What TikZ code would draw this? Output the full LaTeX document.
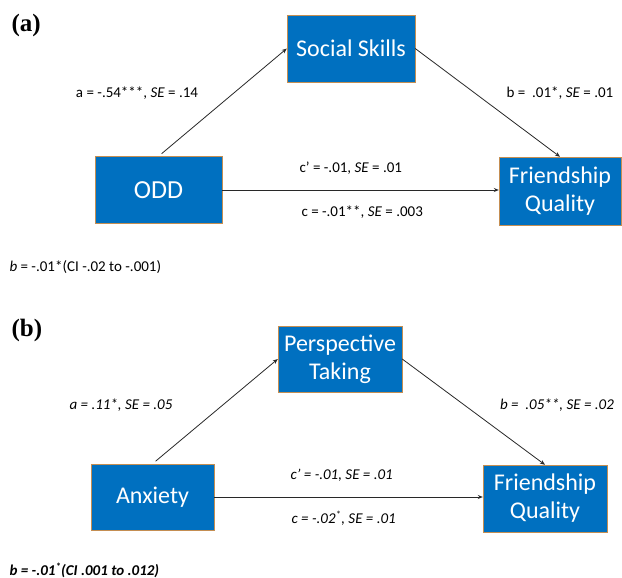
\documentclass[tikz,border=0pt]{standalone}
\usepackage{fontspec}
\setmainfont{Carlito}
\newfontfamily\panelfont{Liberation Serif}
\usetikzlibrary{arrows.meta}
\definecolor{boxblue}{RGB}{0,112,192}
\definecolor{boxedge}{RGB}{196,142,82}
\definecolor{linegray}{RGB}{40,40,40}
\begin{document}
\begin{tikzpicture} [x = 1pt, y = -1pt,
  var/.style = {draw = boxedge, fill = boxblue, text = white, align = center, inner sep = 0pt,
    font = \fontsize{24}{28}\selectfont},
  link/.style = {linegray, line width = 0.8pt, -{Stealth[length = 5pt, width = 4pt]}},
  est/.style = {font = \fontsize{15}{18}\selectfont},
  panel/.style = {anchor = west, font = \panelfont\bfseries\fontsize{25}{28}\selectfont}]
\useasboundingbox (0,0) rectangle (622,578);
% (a)
\node [panel] (pa) at (8,25) {(a)};
\node [var, minimum width = 128pt, minimum height = 67pt] (ss) at (351,48.5) {Social Skills};
\node [var, minimum width = 127pt, minimum height = 67pt, font = \fontsize{26}{28}\selectfont] (odd) at (158.5,190) {ODD};
\node [var, minimum width = 122pt, minimum height = 68pt] (fqa) at (560,191) {Friendship\\Quality};
\draw [link, shorten < = 4pt] (odd.north) -- (ss.west);
\draw [link] (ss.east) -- (fqa.north);
\draw [link] (odd.east) -- (odd.east -| fqa.west);
\node [est] (aa) at (137,93) {a = -.54***, \textit{SE} = .14};
\node [est] (ba) at (560,93) {b =\ \ .01*, \textit{SE} = .01};
\node [est, anchor = west] (cpa) at (296,168) {c’ = -.01, \textit{SE} = .01};
\node [est, anchor = west] (ca) at (298,212) {c = -.01**, \textit{SE} = .003};
\node [est, anchor = west] (inda) at (6,267) {\textit{b} = -.01*(CI -.02 to -.001)};
% (b)
\node [panel] (pb) at (8,330) {(b)};
\node [var, minimum width = 124pt, minimum height = 66pt] (pt) at (340,359) {Perspective\\Taking};
\node [var, minimum width = 123pt, minimum height = 66pt] (anx) at (152.5,497) {Anxiety};
\node [var, minimum width = 124pt, minimum height = 67pt] (fqb) at (545,498.5) {Friendship\\Quality};
\draw [link, shorten < = 4pt] (anx.north) -- (pt.west);
\draw [link] (pt.east) -- (fqb.north);
\draw [link] (anx.east) -- (anx.east -| fqb.west);
\node [est, font = \itshape\fontsize{15}{18}\selectfont] (ab) at (121,405) {a = .11*, SE = .05};
\node [est, font = \itshape\fontsize{15}{18}\selectfont] (bb) at (557,405) {b =\ \ .05**, SE = .02};
\node [est, font = \itshape\fontsize{15}{18}\selectfont, anchor = west] (cpb) at (287,475) {c’ = -.01, SE = .01};
\node [est, font = \itshape\fontsize{15}{18}\selectfont, anchor = west] (cb) at (288,518) {c = -.02\textsuperscript{*}, SE = .01};
\node [est, font = \bfseries\itshape\fontsize{15}{18}\selectfont, anchor = west] (indb) at (6,570) {b = -.01\textsuperscript{*}(CI .001 to .012)};
\end{tikzpicture}
\end{document}
